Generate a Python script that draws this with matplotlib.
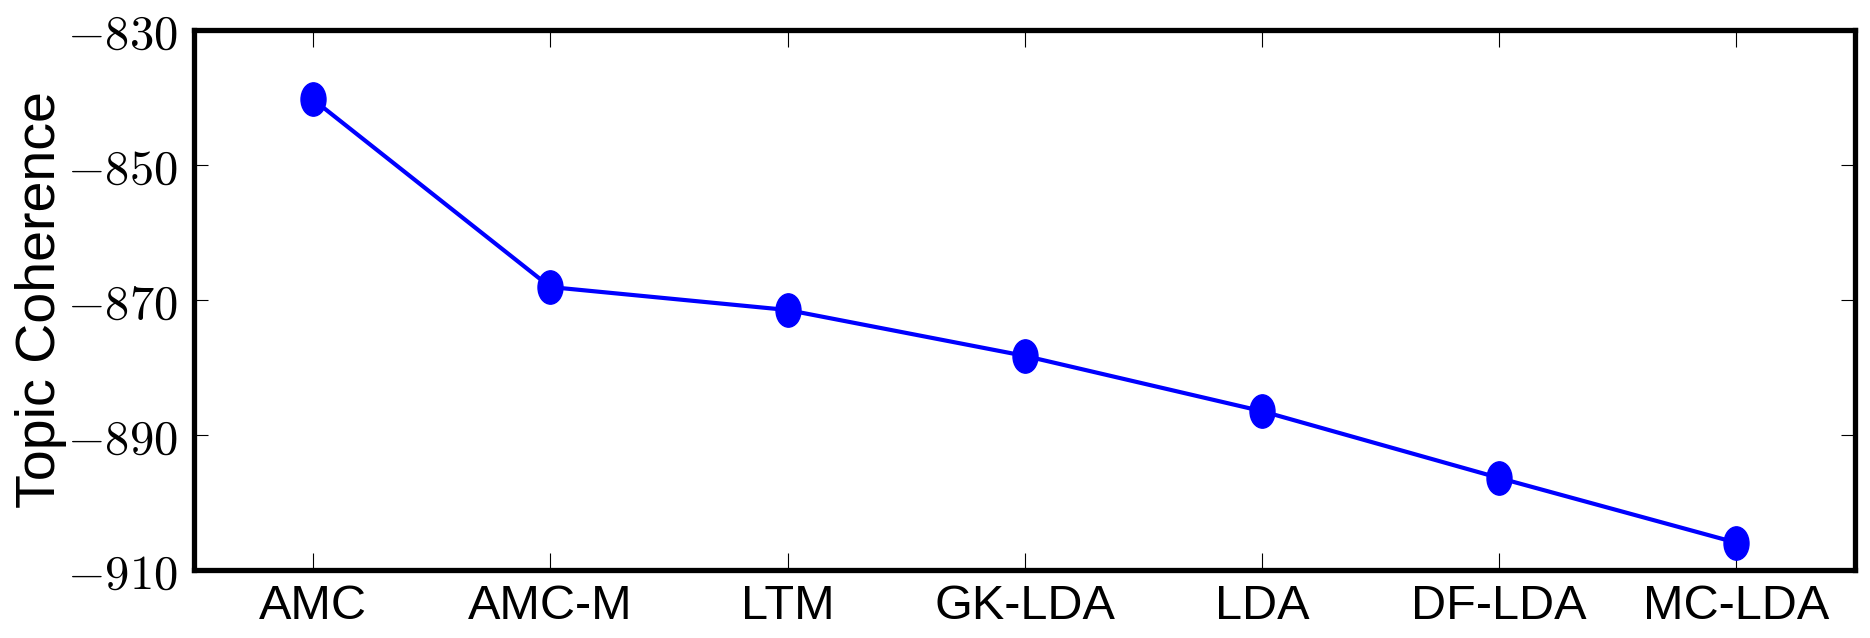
"""
Topic coherence of each model, drawn as a single line with oval markers.
"""
import matplotlib
matplotlib.use('Agg')
import matplotlib.pyplot as plt
from matplotlib.path import Path
from matplotlib.transforms import Affine2D

# Data
models = ['AMC', 'AMC-M', 'LTM', 'GK-LDA', 'LDA', 'DF-LDA', 'MC-LDA']
coherence = [-840.3, -868.1, -871.5, -878.3, -886.5, -896.4, -906.0]
y_ticks = [-830, -850, -870, -890, -910]

plt.rcParams['mathtext.fontset'] = 'cm'

fig = plt.figure(figsize=(18.7, 6.38), dpi=100)
ax = fig.add_axes([0.104, 0.107, 0.888, 0.846])

# Slightly tall oval marker, like the original
oval = Affine2D().scale(0.75, 1.0).transform_path(Path.unit_circle())

x = list(range(len(models)))
ax.plot(x, coherence, color='blue', linewidth=3,
        marker=oval, markersize=24, markerfacecolor='blue',
        markeredgecolor='blue')

ax.set_xlim(-0.5, len(models) - 0.5)
ax.set_ylim(-910, -830)

ax.set_xticks(x)
ax.set_xticklabels(models, fontsize=35,
                   family=['Liberation Sans', 'DejaVu Sans'])
ax.set_yticks(y_ticks)
ax.set_yticklabels([f'$-{abs(v)}$' for v in y_ticks], fontsize=35)

ax.set_ylabel('Topic Coherence', fontsize=40, family='Liberation Sans')
ax.yaxis.set_label_coords(-0.077, 0.5)

ax.tick_params(axis='x', direction='in', length=12, width=0.8,
               top=True, pad=10)
ax.tick_params(axis='y', direction='in', length=10, width=0.8,
               right=True, pad=12)

for sp in ax.spines.values():
    sp.set_linewidth(3.8)

plt.savefig('out.png', dpi=100)
